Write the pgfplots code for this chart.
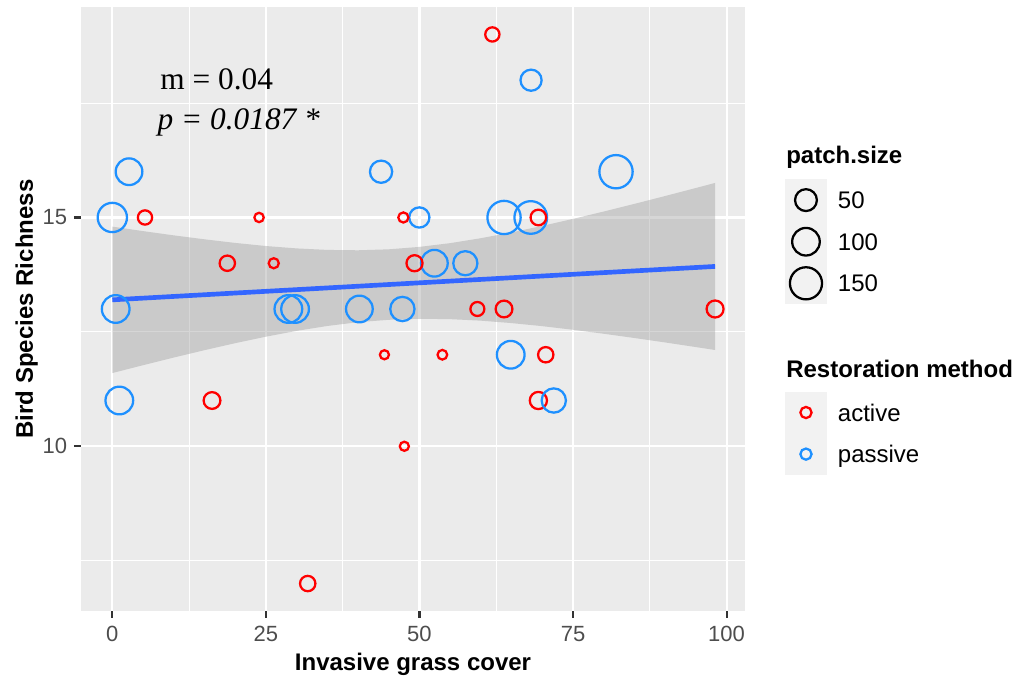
\documentclass[border=0pt]{standalone}
\usepackage{fontspec}
\setmainfont{Liberation Sans}
\newfontfamily\serifA{Liberation Serif}
\usepackage{pgfplots}
\usepackage{pgfplotstable}
\pgfplotsset{compat=1.18}
\definecolor{panelbg}{HTML}{EBEBEB}
\definecolor{keybg}{HTML}{F2F2F2}
\definecolor{gtwenty}{HTML}{333333}
\definecolor{gthirty}{HTML}{4D4D4D}
\definecolor{actred}{HTML}{FF0000}
\definecolor{pasblue}{HTML}{1E90FF}
\definecolor{smoothblue}{HTML}{3366FF}

\pgfplotstableread{
x y size
5.32 15 11
23.89 15 0.7
47.38 15 1.5
18.72 14 15
26.28 14 1.5
49.2 14 18
61.87 19 11
69.36 15 16
59.43 13 10
63.77 13 21
98.13 13 22
16.23 11 21
44.3 12 0.5
47.54 10 0.5
31.81 7 15
53.73 12 1
70.56 12 15
69.36 11 23
}\activedata

\pgfplotstableread{
x y size
2.72 16 92
0 15 119
43.75 16 54
0.55 13 102
28.66 13 102
29.75 13 102
40.22 13 92
47.22 13 70
68.17 18 46
82.0 16 167
49.98 15 40
63.77 15 167
68.12 15 159
52.43 14 92
57.47 14 69
1.14 11 102
64.86 12 102
}\passivedata

\pgfplotstableread{
x y size
71.87 11 70
}\passivelast

\pgfplotsset{
  keyimg/.style={legend image code/.code={\path[draw=none,fill=none] (0pt,-15.6pt) rectangle (31.5pt,15.6pt); \draw[##1] plot coordinates {(15.75pt,0pt)};}},
  spacerimg/.style={legend image code/.code={\path[draw=none,fill=none] (0pt,-32.85pt) rectangle (31.5pt,32.85pt);}},
  sizedpts/.style={forget plot, scatter, only marks, mark=o,
    color=#1, mark options={line width=1.7pt, draw=#1},
    scatter/use mapped color={draw=#1},
    visualization depends on={0.75*(3.85+0.99*sqrt(\thisrow{size})) \as \msize},
    scatter/@pre marker code/.append style={/tikz/mark size=\msize}},
}

\begin{document}
\begin{tikzpicture}
\path[use as bounding box] (-60.75pt,-49.5pt) rectangle (701.25pt,458.25pt);
\fill[keybg] (528pt,230.2pt) rectangle (559.5pt,323.8pt);
\fill[keybg] (528pt,102pt) rectangle (559.5pt,164.5pt);
\begin{axis}[
  scale only axis, width=498pt, height=453pt,
  xmin=-5.1, xmax=103.0, ymin=6.4, ymax=19.6,
  axis background/.style={fill=panelbg},
  axis line style={draw=none},
  xtick={0,25,50,75,100}, ytick={10,15},
  minor xtick={12.5,37.5,62.5,87.5}, minor ytick={7.5,12.5,17.5},
  grid=both,
  major grid style={draw=white, line width=1.6pt},
  minor grid style={draw=white, line width=0.8pt},
  tick align=outside, tick pos=left,
  major tick length=5.25pt, minor tick length=0pt,
  tick style={draw=gtwenty, line width=1.6pt},
  /pgf/number format/assume math mode=true,
  ticklabel style={font=\fontsize{16.5}{18}\selectfont, text=gthirty, inner sep=0pt},
  xticklabel style={anchor=base, yshift=-17.8pt},
  yticklabel style={anchor=east, xshift=-5pt},
  xlabel={Invasive grass cover},
  ylabel={Bird Species Richness},
  label style={font=\bfseries\fontsize{18}{20}\selectfont},
  xlabel style={at={(axis description cs:0.5,-0.0977)}, anchor=base, inner sep=0pt},
  ylabel style={at={(axis description cs:-0.0723,0.5)}, anchor=base, inner sep=0pt},
  legend cell align=left,
  legend style={at={(1.0602,0.7147)}, anchor=north west, draw=none, fill=none,
    inner sep=0pt, outer sep=0pt, row sep=0pt, column sep=8.25pt,
    nodes={inner sep=0pt, text depth=0pt, font=\fontsize{18}{20}\selectfont}},
]
\addplot[sizedpts=pasblue] table[x=x,y=y]{\passivedata};
\addplot[sizedpts=actred] table[x=x,y=y]{\activedata};
\addplot[sizedpts=pasblue] table[x=x,y=y]{\passivelast};

\addplot[forget plot, draw=none, fill=black!40, fill opacity=0.4] coordinates {
(0,14.800) (5,14.702) (10,14.609) (15,14.523) (20,14.444) (25,14.376) (30,14.324)
(35,14.291) (40,14.283) (45,14.304) (50,14.357) (55,14.439) (60,14.547) (65,14.674)
(70,14.816) (75,14.969) (80,15.130) (85,15.297) (90,15.469) (95,15.644) (98.13,15.755)
(98.13,12.104) (95,12.168) (90,12.269) (85,12.366) (80,12.459) (75,12.546) (70,12.625)
(65,12.692) (60,12.745) (55,12.778) (50,12.786) (45,12.764) (40,12.712) (35,12.629)
(30,12.522) (25,12.395) (20,12.253) (15,12.100) (10,11.939) (5,11.772) (0,11.600)
} -- cycle;
\addplot[forget plot, smoothblue, line width=3.5pt] coordinates {(0,13.20) (98.13,13.93)};

\node[anchor=base west, inner sep=0pt, font=\serifA\fontsize{23.5}{26}\selectfont] at (axis cs:7.78,17.79) {m = 0.04};
\node[anchor=base west, inner sep=0pt, font=\serifA\itshape\fontsize{23.5}{26}\selectfont] at (axis cs:7.35,16.93) {p = 0.0187 *};

\addlegendimage{keyimg, only marks, mark=o, black, mark size=8.2pt, mark options={line width=1.7pt}}
\addlegendentry{50}
\addlegendimage{keyimg, only marks, mark=o, black, mark size=10.35pt, mark options={line width=1.7pt}}
\addlegendentry{100}
\addlegendimage{keyimg, only marks, mark=o, black, mark size=12.05pt, mark options={line width=1.7pt}}
\addlegendentry{150}
\addlegendimage{spacerimg}
\addlegendentry{}
\addlegendimage{keyimg, only marks, mark=o, actred, mark size=4.2pt, mark options={line width=1.7pt}}
\addlegendentry{active}
\addlegendimage{keyimg, only marks, mark=o, pasblue, mark size=4.2pt, mark options={line width=1.7pt}}
\addlegendentry{passive}
\end{axis}
\node[anchor=base west, inner sep=0pt, font=\bfseries\fontsize{18}{20}\selectfont] at (528.75pt,335.25pt) {patch.size};
\node[anchor=base west, inner sep=0pt, font=\bfseries\fontsize{18}{20}\selectfont] at (528.75pt,174.75pt) {Restoration method};
\end{tikzpicture}
\end{document}
